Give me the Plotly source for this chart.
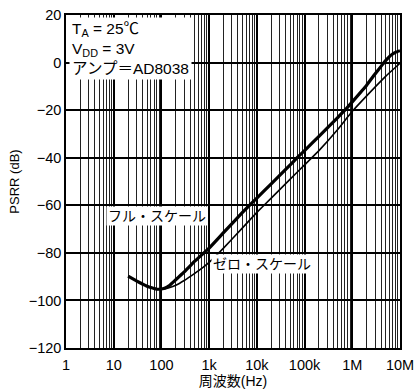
import plotly.graph_objects as go

# Full-scale (thick) curve
full_freq = [20, 30, 40, 50, 60, 70, 80, 90, 100, 120, 150, 200, 300, 500, 1e3, 2e3, 5e3, 7e3,
             1e4, 2e4, 5e4, 7e4, 1e5, 2e5, 5e5, 7e5, 1e6, 2e6, 3e6, 4e6, 5e6, 6e6, 7e6, 8e6, 1e7]
full_psrr = [-89.8, -91.8, -93.1, -94.0, -94.6, -95.0, -95.25, -95.3, -95.2, -94.8, -93.6,
             -91.3, -88.0, -83.5, -78.0, -71.5, -63.0, -60.0, -57.0, -51.0, -43.0, -40.0,
             -37.0, -31.0, -23.0, -20.0, -16.5, -9.5, -4.8, -1.6, 0.8, 2.5, 3.6, 4.3, 5.0]

# Zero-scale (thin) curve
zero_freq = [90, 100, 120, 150, 200, 300, 500, 700, 1e3, 2e3, 5e3, 1e4, 2e4, 5e4, 1e5, 2e5,
             5e5, 1e6, 2e6, 5e6, 1e7]
zero_psrr = [-95.3, -95.25, -95.1, -94.6, -93.6, -91.6, -88.6, -86.5, -84.0, -78.0, -69.5,
             -63.0, -57.0, -49.0, -43.0, -37.0, -28.0, -20.5, -14.0, -5.8, -0.3]

x_tickvals = [1, 10, 100, 1e3, 1e4, 1e5, 1e6, 1e7]
x_ticktext = ["1", "10", "100", "1k", "10k", "100k", "1M", "10M"]
y_tickvals = [-120, -100, -80, -60, -40, -20, 0, 20]
y_ticktext = ["\u2212120", "\u2212100", "\u221280", "\u221260", "\u221240", "\u221220", "0", "20"]

FONT = "Liberation Sans, Arial, Noto Sans CJK JP, sans-serif"

fig = go.Figure()
fig.add_trace(go.Scatter(x=full_freq, y=full_psrr, mode="lines",
                         line=dict(color="black", width=3.2, shape="spline", smoothing=0.3),
                         showlegend=False))
fig.add_trace(go.Scatter(x=zero_freq, y=zero_psrr, mode="lines",
                         line=dict(color="black", width=1.6, shape="spline", smoothing=0.3),
                         showlegend=False))

fig.update_layout(
    width=417, height=392,
    margin=dict(l=66, r=17, t=15, b=44),
    paper_bgcolor="white", plot_bgcolor="white",
    font=dict(family=FONT, size=14, color="black"),
    xaxis=dict(type="log", range=[0, 7], tickvals=x_tickvals, ticktext=x_ticktext,
               automargin=False, ticklabelstandoff=3,
               showgrid=True, gridcolor="black", gridwidth=2,
               minor=dict(showgrid=True, gridcolor="#222", gridwidth=1, dtick="D1", ticks=""),
               showline=True, linecolor="black", linewidth=1.5, mirror=True,
               ticks="", tickfont=dict(size=14.5), zeroline=False,
               title=dict(text="周波数(Hz)", font=dict(size=14), standoff=0)),
    yaxis=dict(range=[-120, 20], tickvals=y_tickvals, ticktext=y_ticktext,
               automargin=False,
               showgrid=True, gridcolor="black", gridwidth=1.5,
               showline=True, linecolor="black", linewidth=1.5, mirror=True,
               ticks="", tickfont=dict(size=14.5), zeroline=False,
               title=dict(text="PSRR (dB)", font=dict(size=13), standoff=6)),
    annotations=[
        dict(xref="paper", yref="paper", x=0.01, y=0.995, xanchor="left", yanchor="top",
             text="T<sub>A</sub> = 25℃<br>V<sub>DD</sub> = 3V<br>アンプ＝AD8038",
             showarrow=False, align="left", bgcolor="white", borderpad=2,
             font=dict(size=15.5, family=FONT)),
        dict(xref="paper", yref="paper", x=(157 - 66) / 334, y=(348 - 216) / 333,
             xanchor="center", yanchor="middle",
             text="フル・スケール", showarrow=False, bgcolor="white", borderpad=1,
             font=dict(size=14, family=FONT)),
        dict(xref="paper", yref="paper", x=(262 - 66) / 334, y=(348 - 264) / 333,
             xanchor="center", yanchor="middle",
             text="ゼロ・スケール", showarrow=False, bgcolor="white", borderpad=1,
             font=dict(size=14, family=FONT)),
    ],
)

fig.write_html("out.html")
